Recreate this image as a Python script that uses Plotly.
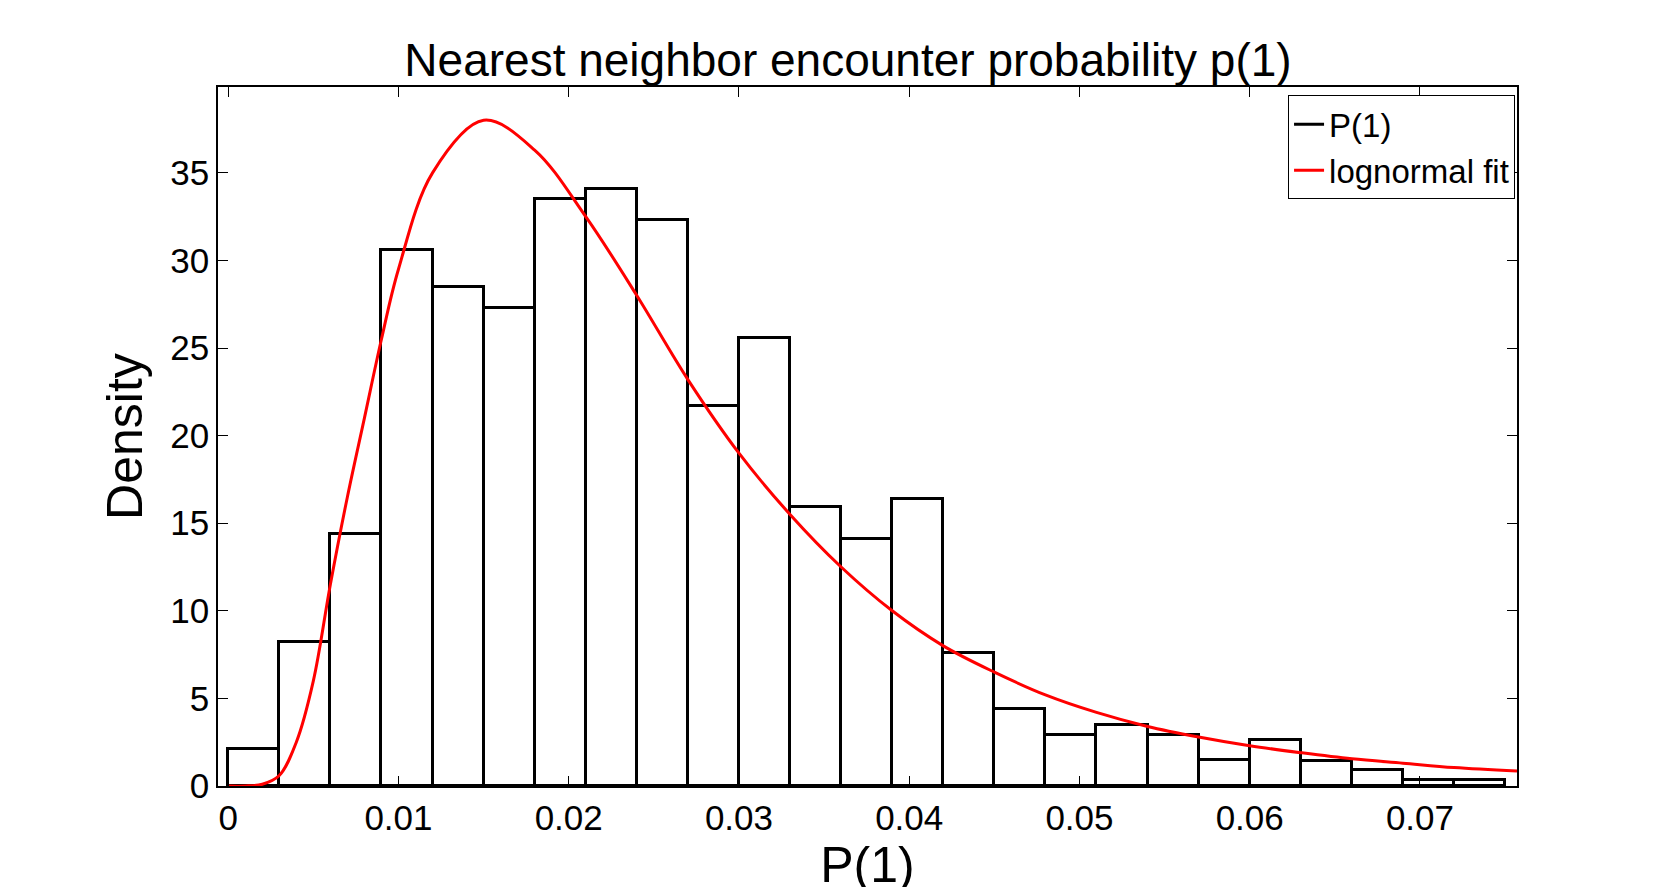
import plotly.graph_objects as go

bin_left = [i * 0.003 for i in range(25)]
density = [2.1, 8.2, 14.4, 30.6, 28.5, 27.3, 33.5, 34.1, 32.3, 21.7, 25.6, 15.9,
           14.1, 16.4, 7.6, 4.4, 2.9, 3.5, 2.9, 1.5, 2.6, 1.4, 0.9, 0.35, 0.35]

fit_x = [0, 0.001, 0.002, 0.003, 0.004, 0.005, 0.006, 0.007, 0.008, 0.009, 0.010,
         0.012, 0.015, 0.018, 0.021, 0.024, 0.027, 0.030, 0.033, 0.036, 0.039,
         0.042, 0.045, 0.048, 0.051, 0.054, 0.057, 0.060, 0.063, 0.066, 0.069,
         0.072, 0.0757]
fit_y = [0, 0, 0.1, 0.6, 2.5, 6.0, 11.5, 16.5, 21.0, 25.5, 29.5,
         35.0, 38.0, 36.3, 32.5, 28.0, 23.2, 19.0, 15.5, 12.5, 10.0,
         8.0, 6.5, 5.2, 4.2, 3.4, 2.8, 2.3, 1.9, 1.55, 1.3, 1.05, 0.85]

fig = go.Figure()
fig.add_trace(go.Bar(x=bin_left, y=density, width=0.003, offset=0, showlegend=False,
                     marker=dict(color="white", line=dict(color="black", width=3))))
# legend entry drawn as a line, like the original
fig.add_trace(go.Scatter(x=[None], y=[None], mode="lines", name="P(1)",
                         line=dict(color="black", width=3)))
fig.add_trace(go.Scatter(x=fit_x, y=fit_y, mode="lines", name="lognormal fit",
                         line=dict(color="red", width=3, shape="spline")))

axis = dict(showline=True, linecolor="black", linewidth=1.5, mirror="ticks",
            ticks="inside", ticklen=10, tickcolor="black", showgrid=False,
            zeroline=False, tickfont=dict(size=35, color="black"))
fig.update_xaxes(**axis, range=[-0.0006, 0.0757], tickvals=[0, 0.01, 0.02, 0.03, 0.04, 0.05, 0.06, 0.07],
                 ticktext=["0", "0.01", "0.02", "0.03", "0.04", "0.05", "0.06", "0.07"],
                 title=dict(text="P(1)", font=dict(size=50, color="black"), standoff=6))
fig.update_yaxes(**axis, range=[0, 39.9], tickvals=[0, 5, 10, 15, 20, 25, 30, 35],
                 title=dict(text="Density", font=dict(size=50, color="black"), standoff=12))
fig.update_layout(
    width=1680, height=887, plot_bgcolor="white", paper_bgcolor="white",
    font=dict(family="Liberation Sans, Arial, sans-serif", color="black"),
    title=dict(text="Nearest neighbor encounter probability p(1)", x=0.5, xanchor="center",
               y=0.96, font=dict(size=46, color="black")),
    margin=dict(l=210, r=171, t=79, b=109),
    bargap=0,
    legend=dict(x=0.9985, y=0.988, xanchor="right", yanchor="top", bordercolor="black",
                borderwidth=1, bgcolor="white", font=dict(size=33, color="black"),
                tracegroupgap=0, itemwidth=30),
    showlegend=True,
)
fig.write_html("out.html")
